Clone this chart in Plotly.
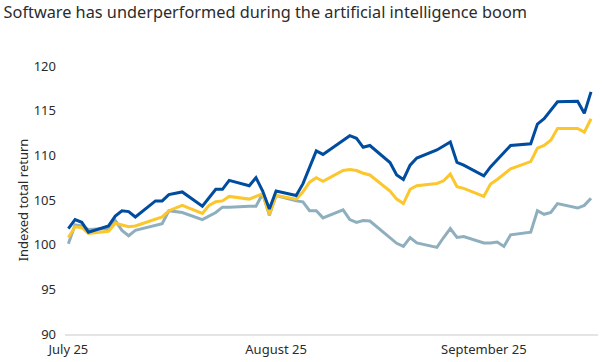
import pandas as pd
import plotly.graph_objects as go

# Trading days (weekdays) 1 July – 17 September 2025
dates = pd.bdate_range("2025-07-01", "2025-09-17")

blue_vals = [
    101.8, 102.8, 102.5, 101.4,
    102.1, 103.2, 103.8, 103.7, 103.1,
    104.9, 104.9, 105.6, 105.75, 105.9,
    104.3, 105.3, 106.2, 106.2, 107.2,
    106.6, 107.5, 106.0, 104.0, 106.0,
    105.5, 106.8, 108.7, 110.5, 110.1,
    111.7, 112.2, 111.9, 110.9, 111.1,
    109.2, 107.8, 107.3, 108.9, 109.7,
    110.6, 111.1, 111.5, 109.2, 108.9,
    107.7, 108.7, 109.5, 110.35, 111.1,
    111.3, 113.5, 114.1, 115.0, 116.0,
    116.05, 114.7, 117.1,
]

yellow_vals = [
    100.8, 102.0, 101.9, 101.25,
    101.5, 102.4, 102.2, 102.0, 102.1,
    102.9, 103.1, 103.8, 104.1, 104.4,
    103.5, 104.4, 104.8, 104.9, 105.4,
    105.1, 105.4, 105.7, 103.4, 105.5,
    105.1, 105.9, 107.0, 107.5, 107.1,
    108.3, 108.4, 108.3, 108.0, 107.8,
    106.0, 105.1, 104.6, 106.2, 106.6,
    106.85, 107.15, 107.9, 106.5, 106.3,
    105.4, 106.8, 107.3, 107.9, 108.5,
    109.3, 110.8, 111.1, 111.7, 113.0,
    113.0, 112.6, 114.1,
]

grey_vals = [
    100.1, 102.2, 102.1, 101.7,
    101.8, 102.7, 101.6, 101.0, 101.6,
    102.1, 102.35, 103.8, 103.7, 103.6,
    102.8, 103.2, 103.6, 104.2, 104.2,
    104.3, 104.3, 105.7, 103.3, 105.5,
    104.9, 104.8, 103.8, 103.8, 103.0,
    103.9, 102.8, 102.5, 102.7, 102.65,
    100.7, 100.15, 99.8, 100.8, 100.2,
    99.7, 100.8, 101.8, 100.8, 100.9,
    100.2, 100.2, 100.3, 99.8, 101.1,
    101.4, 103.8, 103.4, 103.6, 104.6,
    104.1, 104.4, 105.2,
]

y_ticks = [90, 95, 100, 105, 110, 115, 120]
x_tick_dates = ["2025-07-01", "2025-08-01", "2025-09-01"]
x_tick_labels = ["July 25", "August 25", "September 25"]

title_text = "Software has underperformed during the artificial intelligence boom"
y_title = "Indexed total return"

FONT = "Noto Sans"
TXT = "#2b2b2b"

fig = go.Figure()
for vals, color in [
    (grey_vals, "#8fafbe"),
    (yellow_vals, "#fcc62d"),
    (blue_vals, "#004c9f"),
]:
    fig.add_trace(go.Scatter(
        x=dates, y=vals, mode="lines",
        line=dict(color=color, width=3),
        showlegend=False, hoverinfo="skip",
    ))

fig.update_layout(
    width=602, height=362,
    margin=dict(l=65, r=4, t=66, b=23),
    paper_bgcolor="white", plot_bgcolor="white",
    font=dict(family=FONT, color=TXT, size=13),
    title=dict(
        text=title_text, font=dict(family=FONT, size=16.3, color=TXT),
        xref="container", x=0.006, xanchor="left",
        yref="container", y=0.965, yanchor="middle",
    ),
)
fig.update_xaxes(
    type="date",
    range=["2025-06-30 12:00", "2025-09-18 01:00"],
    tickvals=x_tick_dates, ticktext=x_tick_labels,
    showgrid=False, zeroline=False, ticks="",
    showline=True, linecolor="#e4e4e4", linewidth=2,
    ticklabelstandoff=2,
    tickfont=dict(size=13, color=TXT),
)
fig.update_yaxes(
    range=[90, 120], tickvals=y_ticks,
    showgrid=False, zeroline=False, ticks="", showline=False,
    ticklabelstandoff=8,
    tickfont=dict(size=13, color=TXT),
    title=dict(text=y_title, font=dict(size=13, color=TXT), standoff=2),
)

fig.write_html(
    "out.html",
    config={"displayModeBar": False},
    post_script="document.body.style.margin='0';document.body.style.overflow='hidden';",
)
